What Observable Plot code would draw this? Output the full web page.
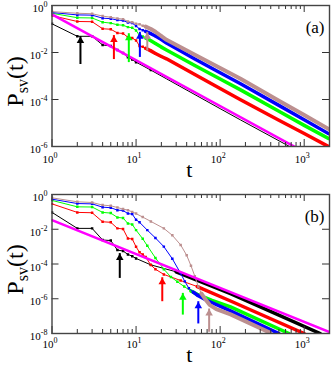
<!DOCTYPE html>
<html><head><meta charset="utf-8">
<script src="https://cdn.jsdelivr.net/npm/d3@7"></script>
<script src="https://cdn.jsdelivr.net/npm/@observablehq/plot@0.6"></script>
<style>
body{margin:0;background:#fff;}
#chart{width:332px;}
svg{display:block;}
svg text{font-family:"Liberation Serif","Times New Roman",Times,serif !important;}
</style></head><body><div id="chart"></div>
<script>
// ---------- data (t, log10 P_sv) ----------
// panel (a)
const aT = [1,2,3,4,5,6,7,8,9,10,11,12,13,15,17,20,23,50,100,175,500,1000,1940];
const aBrown = [-0.26,-0.33,-0.35,-0.45,-0.50,-0.55,-0.58,-0.68,-0.71,-0.78,-0.80,-0.86,-0.90,-1.00,-1.12,-1.30,-1.46,-2.10,-2.66,-3.12,-4.05,-4.66,-5.25];
const aBlue  = [-0.30,-0.40,-0.41,-0.54,-0.56,-0.62,-0.64,-0.72,-0.75,-0.87,-1.00,-1.05,-1.10,-1.20,-1.30,-1.45,-1.60,-2.28,-2.86,-3.33,-4.25,-4.86,-5.45];
const aGreen = [-0.33,-0.52,-0.53,-0.71,-0.75,-0.82,-0.84,-0.92,-0.95,-1.06,-1.28,-1.32,-1.38,-1.50,-1.62,-1.77,-1.89,-2.55,-3.13,-3.59,-4.50,-5.10,-5.66];
const aRed   = [-0.43,-0.68,-0.69,-0.99,-1.01,-1.17,-1.19,-1.35,-1.38,-1.49,-1.72,-1.76,-1.82,-1.93,-2.04,-2.17,-2.27,-2.94,-3.53,-4.01,-4.88,-5.45,-6.00];
const aBlackT = [1,2,3,4,5,6,7,8,9,10,15,23,100,175,1000];
const aBlack  = [-0.78,-1.31,-1.31,-1.68,-1.72,-1.89,-2.02,-2.20,-2.30,-2.41,-2.75,-3.12,-4.39,-4.87,-6.34];
const aFitT = [1, 2000];
const aFit  = [-0.38, -6.82];
const aArrowT    = [2.18, 5.45, 8.2, 11.1, 13.6];
const aArrowFrom = [-2.34, -2.13, -2.26, -2.04, -1.77];
const aArrowTo   = [-1.32, -1.28, -1.20, -1.14, -1.14];

// panel (b)
const bBrownT = [1,2,3,4,5,6,7,8,9,10,12,15,21.4,27,33.9,40,45,50,55,60,66,75,90,133,390];
const bBrown  = [-0.19,-0.42,-0.46,-0.61,-0.65,-0.75,-0.84,-0.90,-1.00,-1.10,-1.30,-1.55,-1.95,-2.35,-2.90,-3.50,-4.10,-4.70,-5.30,-5.70,-6.00,-6.35,-6.60,-6.90,-7.95];
const bBlueT = [1,2,3,4,5,6,7,8,9,10,11,13.6,17,21.4,27,33.9,38,42.5,48,53.5,70,133,500];
const bBlue  = [-0.27,-0.52,-0.54,-0.73,-0.76,-0.90,-0.92,-1.10,-1.13,-1.45,-1.60,-2.05,-2.50,-3.00,-3.70,-4.54,-5.00,-5.40,-5.62,-5.79,-6.10,-6.70,-8.00];
const bGreenT = [1,2,3,4,5,6,7,8,9,10,12,13.6,17,21.4,26,31,37.4,45,53.5,80,133,660];
const bGreen  = [-0.34,-0.71,-0.72,-1.03,-1.07,-1.32,-1.35,-1.67,-1.72,-2.05,-2.55,-2.95,-3.65,-4.30,-4.75,-5.02,-5.30,-5.55,-5.75,-6.10,-6.47,-8.00];
const bRedT = [1,2,3,4,5,6,7,8,9,10,11,12,13,15,17,21.4,33.9,53.5,133,1000];
const bRed  = [-0.54,-1.03,-1.05,-1.57,-1.60,-1.95,-1.98,-2.53,-2.56,-3.01,-3.33,-3.45,-3.60,-4.06,-4.30,-4.60,-4.95,-5.30,-6.13,-8.00];
const bBlackT = [1,2,3,4,5,6,7,8,9,10,15,30,133,1550];
const bBlack  = [-1.03,-1.95,-1.95,-2.62,-2.65,-3.20,-3.25,-3.45,-3.55,-3.68,-4.05,-4.45,-5.71,-8.00];
const bFitT = [1, 2000];
const bFit  = [-1.48, -7.92];
const bArrowT    = [6.4, 20.5, 36, 55, 74];
const bArrowFrom = [-4.60, -5.94, -6.71, -7.22, -7.70];
const bArrowTo   = [-3.40, -4.79, -5.69, -6.17, -6.59];

const arrowColors = ["black", "#ff0000", "#00ff00", "#0000ff", "#bc8f8f"];
const xMajor = [1, 10, 100, 1000];
const xMinor = [2,3,4,5,6,7,8,9,20,30,40,50,60,70,80,90,200,300,400,500,600,700,800,900];
const aYTicks = [0, -2, -4, -6];
const bYTicks = [0, -2, -4, -6, -8];

// ---------- drawing ----------
const FONT = "Liberation Serif, Times New Roman, Times, serif";
const W = 332, H = 184, ML = 51.5, MR = 3;

function rows(t, e) { return t.map((d, i) => ({t: d, p: 10 ** e[i]})); }

function curve(t, e, color, thickFrom, markUntil, thickW = 3.5) {
  const r = rows(t, e);
  return [
    Plot.line(r, {x: "t", y: "p", stroke: color, strokeWidth: 1, clip: true}),
    Plot.line(r.filter(d => d.t >= thickFrom), {x: "t", y: "p", stroke: color, strokeWidth: thickW, clip: true}),
    Plot.dot(r.filter(d => d.t <= markUntil), {x: "t", y: "p", fill: color, symbol: "square", r: 1.4, clip: true})
  ];
}

function arrows(t, from, to) {
  const r = t.map((d, i) => ({t: d, y1: 10 ** from[i], y2: 10 ** to[i], c: arrowColors[i]}));
  return [
    Plot.ruleX(r, {x: "t", y1: "y1", y2: "y2", stroke: "c", strokeWidth: 2, insetTop: 4}),
    Plot.dot(r, {x: "t", y: "y2", fill: "c", symbol: "triangle", r: 2.8, dy: 4.3})
  ];
}

function panel({mt, mb, yMin, yTicks, curves, fit, arr, tag, labDy, tDy}) {
  const iw = W - ML - MR, ih = H - mt - mb;
  const tickCol = "#333";
  const svg = Plot.plot({
    width: W, height: H,
    marginLeft: ML, marginRight: MR, marginTop: mt, marginBottom: mb,
    x: {type: "log", domain: [1, 2000], axis: null},
    y: {type: "log", domain: [10 ** yMin, 1], axis: null},
    color: {type: "identity"},
    style: {fontFamily: FONT, fontSize: "11px", background: "white", color: "black", overflow: "visible"},
    marks: [
      ...curves,
      Plot.line(rows(fit[0], fit[1]), {x: "t", y: "p", stroke: "#ff00ff", strokeWidth: 2.5, clip: true}),
      ...arr,
      // ticks, inward on all sides
      Plot.tickX(xMajor, {x: d => d, insetTop: ih - 7, stroke: tickCol}),
      Plot.tickX(xMajor, {x: d => d, insetBottom: ih - 7, stroke: tickCol}),
      Plot.tickX(xMinor, {x: d => d, insetTop: ih - 4, stroke: tickCol}),
      Plot.tickX(xMinor, {x: d => d, insetBottom: ih - 4, stroke: tickCol}),
      Plot.tickY(yTicks, {y: d => 10 ** d, insetRight: iw - 7, stroke: tickCol}),
      Plot.tickY(yTicks, {y: d => 10 ** d, insetLeft: iw - 7, stroke: tickCol}),
      Plot.frame({stroke: "#444", strokeWidth: 1.4}),
      // tick labels
      Plot.text(xMajor, {x: d => d, frameAnchor: "bottom", dy: labDy, dx: -2, text: d => "10^" + Math.round(Math.log10(d)), fontSize: 11, fontFamily: FONT, fill: "black"}),
      Plot.text(yTicks, {y: d => 10 ** d, frameAnchor: "left", dx: -4.5, dy: 3, textAnchor: "end", text: d => "10^" + d, fontSize: 11, fontFamily: FONT, fill: "black"}),
      Plot.text([tag], {frameAnchor: "top-right", dx: -5, dy: 15, textAnchor: "end", text: d => d, fontSize: 17, fontFamily: FONT, fill: "black"}),
      Plot.text(["t"], {frameAnchor: "bottom", dx: -1.5, dy: tDy, text: d => d, fontSize: 22, fontFamily: FONT, fill: "black"})
    ]
  });
  // superscripts in tick labels
  d3.select(svg).selectAll("text").each(function () {
    const m = /^10\^(-?\d+)$/.exec(this.textContent);
    if (!m) return;
    this.textContent = "";
    const t = d3.select(this);
    t.append("tspan").text("10");
    t.append("tspan").attr("dy", "-5").attr("font-size", "8px").text(m[1]);
  });
  // y-axis title
  const cy = mt + ih / 2 + 6;
  const lab = d3.select(svg).append("text")
    .attr("transform", `translate(23,${cy}) rotate(-90)`)
    .attr("text-anchor", "middle")
    .attr("font-family", FONT).attr("font-size", "24px").attr("fill", "black");
  lab.append("tspan").text("P");
  lab.append("tspan").attr("font-size", "16px").attr("dy", "5").text("sv");
  lab.append("tspan").attr("dy", "-5").text("(t)");
  return svg;
}

const panelA = panel({
  mt: 5, mb: 38, yMin: -6, yTicks: aYTicks, tag: "(a)", labDy: 16, tDy: 30,
  curves: [
    ...curve(aBlackT, aBlack, "black", 1e9, 20),
    ...curve(aT, aRed, "#ff0000", 13, 20),
    ...curve(aT, aGreen, "#00ff00", 13, 20),
    ...curve(aT, aBlue, "#0000ff", 13, 20),
    ...curve(aT, aBrown, "#bc8f8f", 13, 20, 4)
  ],
  fit: [aFitT, aFit],
  arr: arrows(aArrowT, aArrowFrom, aArrowTo)
});
const panelB = panel({
  mt: 10, mb: 35, yMin: -8, yTicks: bYTicks, tag: "(b)", labDy: 14, tDy: 28,
  curves: [
    ...curve(bBlackT, bBlack, "black", 30, 20),
    ...curve(bRedT, bRed, "#ff0000", 45, 60),
    ...curve(bGreenT, bGreen, "#00ff00", 45, 60),
    ...curve(bBlueT, bBlue, "#0000ff", 48, 60),
    ...curve(bBrownT, bBrown, "#bc8f8f", 60, 70, 4)
  ],
  fit: [bFitT, bFit],
  arr: arrows(bArrowT, bArrowFrom, bArrowTo)
});
document.getElementById("chart").append(panelA, panelB);
</script>
</body></html>
